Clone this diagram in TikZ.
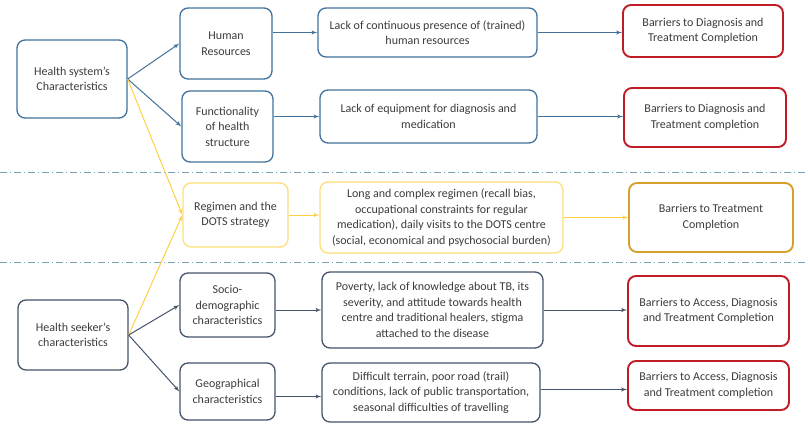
\documentclass[tikz,border=0pt]{standalone}
\usepackage{fontspec}
\setmainfont{Carlito}
\usepackage{tikz}
\usetikzlibrary{arrows,shapes,positioning}
\definecolor{sysblue}{RGB}{65,113,156}
\definecolor{seekblue}{RGB}{68,84,106}
\definecolor{barred}{RGB}{192,28,38}
\definecolor{barorange}{RGB}{214,160,44}
\definecolor{regyellow}{RGB}{255,222,120}
\definecolor{lineyellow}{RGB}{255,208,70}
\definecolor{sepblue}{RGB}{120,162,184}
\definecolor{txtgrey}{RGB}{60,60,60}
\begin{document}
\begin{tikzpicture}[x=1pt,y=-1pt,
  box/.style={rounded corners=8pt, align=center, inner sep=0pt, fill=white, text=txtgrey, font=\fontsize{12}{15.5}\selectfont},
  sysbox/.style={box, draw=sysblue, line width=1.3pt},
  seekbox/.style={box, draw=seekblue, line width=1.3pt},
  regbox/.style={box, draw=regyellow, line width=1.3pt},
  redbox/.style={box, draw=barred, line width=1.9pt},
  orangebox/.style={box, draw=barorange, line width=1.9pt},
  sysarrow/.style={->, >=latex', draw=sysblue, line width=1pt},
  seekarrow/.style={->, >=latex', draw=seekblue, line width=1pt},
  regarrow/.style={->, >=latex', draw=lineyellow, line width=1pt},
  separator/.style={draw=sepblue, line width=1pt, dash pattern=on 7pt off 3pt on 1pt off 3pt}]
\useasboundingbox (0,0) rectangle (808,423);
%dash-dot lines between the three bands
\draw[separator] (0,172) -- (808,172);
\draw[separator] (0,262) -- (808,262);
%left column
\node[sysbox, minimum width=110, minimum height=78] (hsys) at (72,79) {Health system’s\\Characteristics};
\node[seekbox, minimum width=110, minimum height=70] (hseek) at (73,335) {Health seeker’s\\characteristics};
%second column
\node[sysbox, minimum width=92, minimum height=71] (hr) at (226,43.5) {Human\\Resources};
\node[sysbox, minimum width=91, minimum height=71] (func) at (227.5,126.5) {Functionality\\of health\\structure};
\node[regbox, minimum width=105, minimum height=64] (reg) at (235.5,215) {Regimen and the\\DOTS strategy};
\node[seekbox, minimum width=95, minimum height=64] (socio) at (227.5,305) {Socio-\\demographic\\characteristics};
\node[seekbox, minimum width=95, minimum height=57] (geo) at (227.5,391.5) {Geographical\\characteristics};
%third column
\node[sysbox, minimum width=219, minimum height=49] (hrlack) at (427.5,32.5) {Lack of continuous presence of (trained)\\human resources};
\node[sysbox, minimum width=217, minimum height=53] (equip) at (428.5,116.5) {Lack of equipment for diagnosis and\\medication};
\node[regbox, minimum width=243, minimum height=71] (regimen) at (441.5,217.5) {Long and complex regimen (recall bias,\\occupational constraints for regular\\medication), daily visits to the DOTS centre\\(social, economical and psychosocial burden)};
\node[seekbox, minimum width=221, minimum height=76] (poverty) at (432.5,310) {Poverty, lack of knowledge about TB, its\\severity, and attitude towards health\\centre and traditional healers, stigma\\attached to the disease};
\node[seekbox, minimum width=218, minimum height=59] (terrain) at (431,392.5) {Difficult terrain, poor road (trail)\\conditions, lack of public transportation,\\seasonal difficulties of travelling};
%barriers
\node[redbox, minimum width=160, minimum height=52] (bar1) at (703,31) {Barriers to Diagnosis and\\Treatment Completion};
\node[redbox, minimum width=162, minimum height=59] (bar2) at (705,117.5) {Barriers to Diagnosis and\\Treatment completion};
\node[orangebox, minimum width=164, minimum height=69] (bar3) at (711,217.5) {Barriers to Treatment\\Completion};
\node[redbox, minimum width=161, minimum height=70] (bar4) at (708.5,311) {Barriers to Access, Diagnosis\\and Treatment Completion};
\node[redbox, minimum width=161, minimum height=49] (bar5) at (708.5,385.5) {Barriers to Access, Diagnosis\\and Treatment completion};
%fan-out from the left boxes
\draw[sysarrow] (hsys.east) -- (hr.west);
\draw[sysarrow] (hsys.east) -- (func.west);
\draw[regarrow] (hsys.east) -- (reg.west);
\draw[regarrow] (hseek.east) -- (reg.west);
\draw[seekarrow] (hseek.east) -- (socio.west);
\draw[seekarrow] (hseek.east) -- (geo.west);
%rows
\draw[sysarrow] (hr.east |- hrlack.west) -- (hrlack.west);
\draw[sysarrow] (hrlack.east) -- (hrlack.east -| bar1.west);
\draw[sysarrow] (func.east |- equip.west) -- (equip.west);
\draw[sysarrow] (equip.east) -- (equip.east -| bar2.west);
\draw[regarrow] (reg.east) -- (reg.east -| regimen.west);
\draw[regarrow] (regimen.east) -- (regimen.east -| bar3.west);
\draw[seekarrow] ([yshift=-5pt]socio.east) -- ([yshift=-5pt]socio.east -| poverty.west);
\draw[seekarrow] (poverty.east) -- (poverty.east -| bar4.west);
\draw[seekarrow] ([yshift=-5pt]geo.east) -- ([yshift=-5pt]geo.east -| terrain.west);
\draw[seekarrow] ([yshift=3pt]terrain.east) -- ([yshift=3pt]terrain.east -| bar5.west);
\end{tikzpicture}
\end{document}
